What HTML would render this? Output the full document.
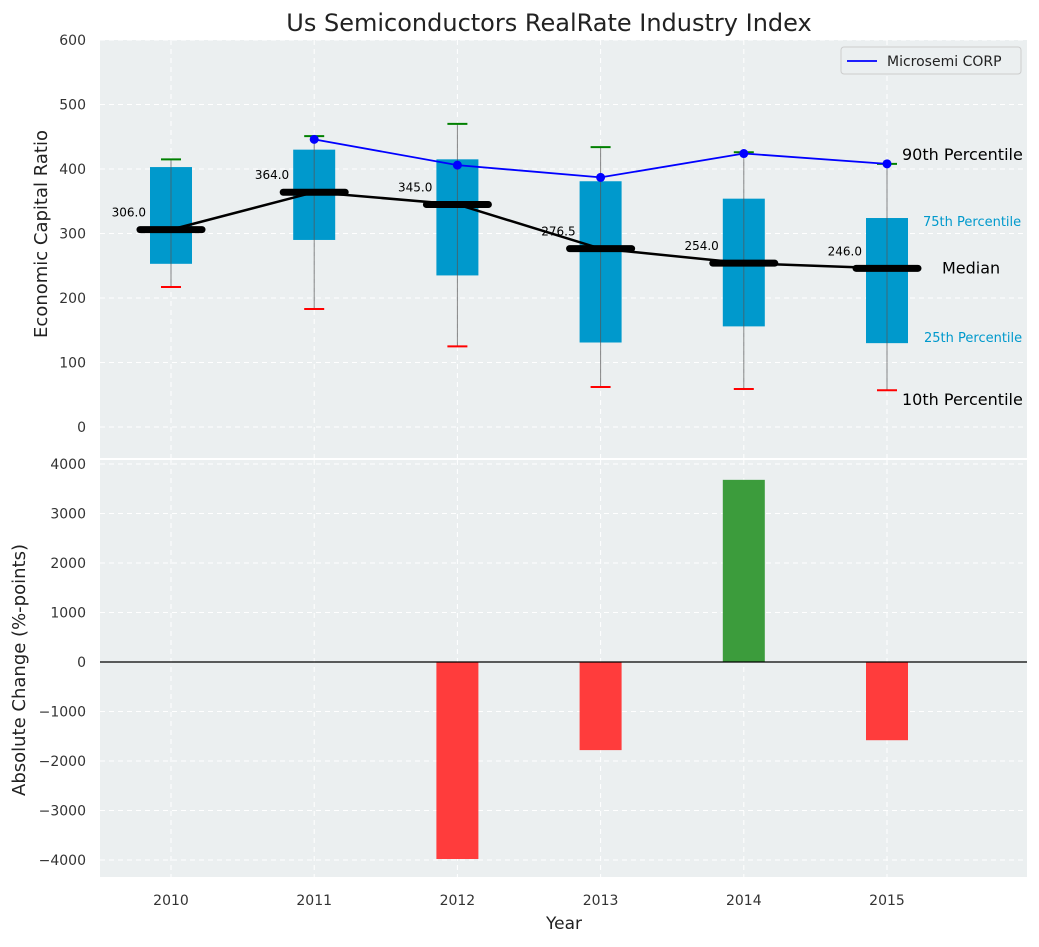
<!DOCTYPE html>
<html><head><meta charset="utf-8"><style>
body{margin:0;background:#fff;}
svg text{font-family:"DejaVu Sans","Liberation Sans",sans-serif;}
</style></head><body>
<svg id="c" width="1039" height="942" xmlns="http://www.w3.org/2000/svg"></svg>
<script>
const years=['2010','2011','2012','2013','2014','2015'];
const p10=[217,183,125,62,59,57];
const p25=[253,290,235,131,156,130];
const medians=[306,364,345,276.5,254,246];
const p75=[403,430,415,381,354,324];
const p90=[415,451,470,434,426,408];
const company=[null,446,406,387,424,408];
const changes=[0,0,-3980,-1780,3680,-1580];
const topTicks=[0,100,200,300,400,500,600];
const botTicks=[-4000,-3000,-2000,-1000,0,1000,2000,3000,4000];

const NS='http://www.w3.org/2000/svg';
const svg=document.getElementById('c');
function el(t,a,p){const e=document.createElementNS(NS,t);for(const k in a)e.setAttribute(k,a[k]);(p||svg).appendChild(e);return e;}
const L=100,R=1027;
const x=i=>171+i*143.2;
const yT=v=>427-v*0.645;
const yB=v=>662-v*0.0495;
const T0=40,T1=458,B0=460,B1=877;

let a=el('rect',{x:L,y:T0,width:R-L,height:T1-T0,fill:'#ebeff0'});

a=el('rect',{x:L,y:B0,width:R-L,height:B1-B0,fill:'#ebeff0'});


topTicks.forEach(v=>{el('line',{x1:L,x2:R,y1:yT(v),y2:yT(v),stroke:'#fff','stroke-dasharray':'5,4'});
 const t=el('text',{x:86,y:yT(v)+5,'text-anchor':'end','font-size':14,fill:'#333'});t.textContent=v;
 });
botTicks.forEach(v=>{el('line',{x1:L,x2:R,y1:yB(v),y2:yB(v),stroke:'#fff','stroke-dasharray':'5,4'});
 const t=el('text',{x:86,y:yB(v)+5,'text-anchor':'end','font-size':14,fill:'#333'});t.textContent=(v<0?'\u2212'+(-v):v);
 });
years.forEach((yr,i)=>{
 el('line',{x1:x(i),x2:x(i),y1:T0,y2:T1,stroke:'#fff','stroke-dasharray':'5,4'});
 el('line',{x1:x(i),x2:x(i),y1:B0,y2:B1,stroke:'#fff','stroke-dasharray':'5,4'});
 const t=el('text',{x:x(i),y:905,'text-anchor':'middle','font-size':14,fill:'#333'});t.textContent=yr;
 
});

years.forEach((yr,i)=>{
 const g=el('g',{});
 el('rect',{x:x(i)-21,y:yT(p75[i]),width:42,height:yT(p25[i])-yT(p75[i]),fill:'#0099cc'},g);
 el('line',{x1:x(i),x2:x(i),y1:yT(p10[i]),y2:yT(p90[i]),stroke:'#555','stroke-width':1,opacity:0.7},g);
 el('line',{x1:x(i)-10,x2:x(i)+10,y1:yT(p90[i]),y2:yT(p90[i]),stroke:'green','stroke-width':2},g);
 el('line',{x1:x(i)-10,x2:x(i)+10,y1:yT(p10[i]),y2:yT(p10[i]),stroke:'red','stroke-width':2},g);
});
let pts=medians.map((m,i)=>x(i)+','+yT(m)).join(' ');
a=el('polyline',{points:pts,fill:'none',stroke:'#000','stroke-width':2.5});

medians.forEach((m,i)=>{
 const l=el('line',{x1:x(i)-31,x2:x(i)+31,y1:yT(m),y2:yT(m),stroke:'#000','stroke-width':7,'stroke-linecap':'round'});
 
 const t=el('text',{x:x(i)-25,y:yT(m)-13,'text-anchor':'end','font-size':12,fill:'#000'});t.textContent=m.toFixed(1);
 
});
const cp=company.map((v,i)=>v==null?null:[x(i),yT(v)]).filter(p=>p);
a=el('polyline',{points:cp.map(p=>p.join(',')).join(' '),fill:'none',stroke:'blue','stroke-width':1.8});

cp.forEach(p=>{const c=el('circle',{cx:p[0],cy:p[1],r:4.5,fill:'blue'});
 });

const ann=[['90th Percentile',902,yT(p90[5])-9,16,'#000'],['75th Percentile',923,yT(p75[5])+3,13,'#0099cc'],
['Median',942,yT(medians[5])+0,16,'#000'],['25th Percentile',924,yT(p25[5])-6,13,'#0099cc'],['10th Percentile',902,yT(p10[5])+10,16,'#000']];
ann.forEach(d=>{const t=el('text',{x:d[1],y:d[2]+5,'font-size':d[3],fill:d[4]});t.textContent=d[0];
 });

const lg=el('g',{});
el('rect',{x:841,y:47,width:180,height:27,rx:3,fill:'#ebeff0',stroke:'#ccc'},lg);
el('line',{x1:847,x2:877,y1:61,y2:61,stroke:'blue','stroke-width':1.8},lg);
let lt=el('text',{x:887,y:66,'font-size':14,fill:'#222'},lg);lt.textContent='Microsemi CORP';

changes.forEach((v,i)=>{if(!v)return;
 const r=el('rect',{x:x(i)-21,y:Math.min(yB(v),yB(0)),width:42,height:Math.abs(yB(v)-yB(0)),fill:v>0?'#3c9c3c':'#ff3c3c'});
 });
el('line',{x1:L,x2:R,y1:yB(0),y2:yB(0),stroke:'#000','stroke-width':1.2});

let t=el('text',{x:549,y:31,'text-anchor':'middle','font-size':24,fill:'#222'});t.textContent='Us Semiconductors RealRate Industry Index';

t=el('text',{x:564,y:929,'text-anchor':'middle','font-size':17,fill:'#222'});t.textContent='Year';

t=el('text',{x:0,y:0,'text-anchor':'middle','font-size':18,fill:'#222',transform:'translate(47,234) rotate(-90)'});t.textContent='Economic Capital Ratio';

t=el('text',{x:0,y:0,'text-anchor':'middle','font-size':18,fill:'#222',transform:'translate(25,670) rotate(-90)'});t.textContent='Absolute Change (%-points)';

</script>
</body></html>
